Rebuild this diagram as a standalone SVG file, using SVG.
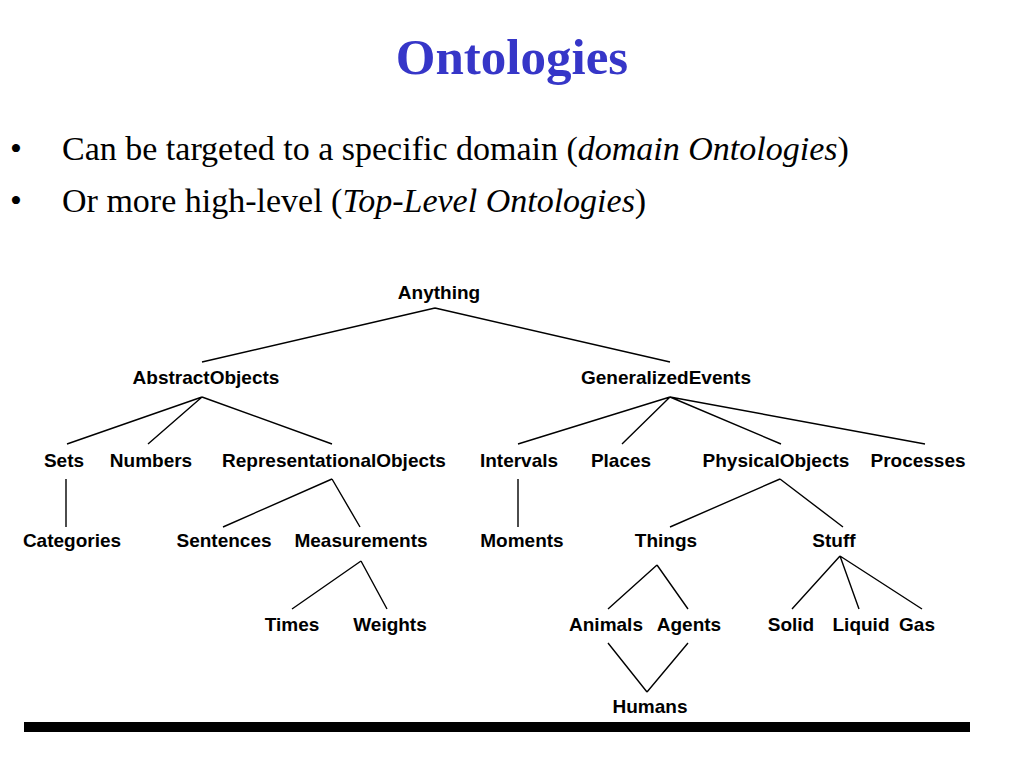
<svg xmlns="http://www.w3.org/2000/svg" width="1024" height="768" viewBox="0 0 1024 768">
<style>
.title{font-family:"Liberation Serif","Times New Roman",serif;font-weight:bold;font-size:51px;fill:#3636c8}
.bul{font-family:"Liberation Serif","Times New Roman",serif;font-size:34px;fill:#000}
.n{font-family:"Liberation Sans",Arial,sans-serif;font-weight:bold;font-size:19px;fill:#000;text-anchor:middle}
.e{stroke:#000;stroke-width:1.4;fill:none}
</style>
<rect width="1024" height="768" fill="#fff"/>
<text class="title" x="512" y="74" text-anchor="middle">Ontologies</text>
<g id="bullets">
<text class="bul" x="10" y="160">•</text>
<text class="bul" x="62" y="160">Can be targeted to a specific domain (<tspan font-style="italic">domain Ontologies</tspan>)</text>
<text class="bul" x="10" y="212">•</text>
<text class="bul" x="62" y="212">Or more high-level (<tspan font-style="italic">Top-Level Ontologies</tspan>)</text>
</g>
<g id="connectors">
<path class="e" d="M435,308 L202,362 M435,308 L670,362"/>
<path class="e" d="M202,397 L67,444 M202,397 L148,444 M202,397 L332,444"/>
<path class="e" d="M66,479 L66,527"/>
<path class="e" d="M332,479 L223,527 M332,479 L360,527"/>
<path class="e" d="M670,397 L518,444 M670,397 L622,444 M670,397 L781,444 M670,397 L925,444"/>
<path class="e" d="M518,479 L518,527"/>
<path class="e" d="M780,479 L670,527 M780,479 L843,527"/>
<path class="e" d="M361,561 L292,609 M361,561 L387,609"/>
<path class="e" d="M657,565 L608,609 M657,565 L688,609"/>
<path class="e" d="M840,556 L792,609 M840,556 L859,609 M840,556 L922,609"/>
<path class="e" d="M608,643 L647,692 M688,643 L647,692"/>
</g>
<g id="n-anything"><text class="n" x="439" y="299">Anything</text></g>
<g id="n-abstract"><text class="n" x="206" y="384">AbstractObjects</text></g>
<g id="n-genevents"><text class="n" x="666" y="384">GeneralizedEvents</text></g>
<g id="n-sets"><text class="n" x="64" y="467">Sets</text></g>
<g id="n-numbers"><text class="n" x="151" y="467">Numbers</text></g>
<g id="n-repobj"><text class="n" x="334" y="467">RepresentationalObjects</text></g>
<g id="n-intervals"><text class="n" x="519" y="467">Intervals</text></g>
<g id="n-places"><text class="n" x="621" y="467">Places</text></g>
<g id="n-physobj"><text class="n" x="776" y="467">PhysicalObjects</text></g>
<g id="n-processes"><text class="n" x="918" y="467">Processes</text></g>
<g id="n-categories"><text class="n" x="72" y="547">Categories</text></g>
<g id="n-sentences"><text class="n" x="224" y="547">Sentences</text></g>
<g id="n-measurements"><text class="n" x="361" y="547">Measurements</text></g>
<g id="n-moments"><text class="n" x="522" y="547">Moments</text></g>
<g id="n-things"><text class="n" x="666" y="547">Things</text></g>
<g id="n-stuff"><text class="n" x="834" y="547">Stuff</text></g>
<g id="n-times"><text class="n" x="292" y="631">Times</text></g>
<g id="n-weights"><text class="n" x="390" y="631">Weights</text></g>
<g id="n-animals"><text class="n" x="606" y="631">Animals</text></g>
<g id="n-agents"><text class="n" x="689" y="631">Agents</text></g>
<g id="n-solid"><text class="n" x="791" y="631">Solid</text></g>
<g id="n-liquid"><text class="n" x="861" y="631">Liquid</text></g>
<g id="n-gas"><text class="n" x="917" y="631">Gas</text></g>
<g id="n-humans"><text class="n" x="650" y="713">Humans</text></g>
<rect x="24" y="722" width="946" height="10" fill="#000"/>
</svg>
